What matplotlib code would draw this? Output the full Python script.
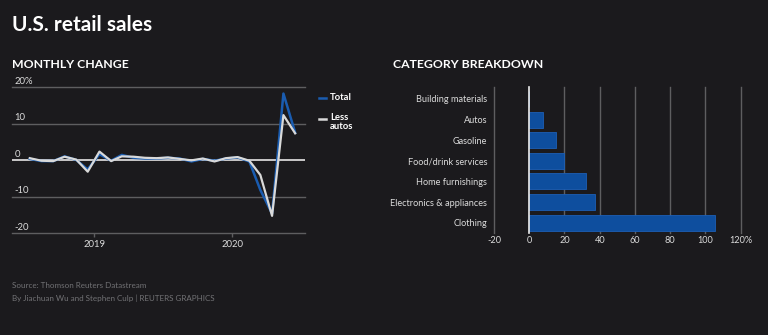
import matplotlib
matplotlib.use('Agg')
import matplotlib.pyplot as plt
import matplotlib.dates as mdates
import matplotlib.transforms as mtrans
import numpy as np
import datetime

plt.rcParams['font.family'] = ['Lato', 'DejaVu Sans']

BG = '#1b1a1d'
BLUE = '#1a5cb0'
WHITE = '#d9d9d9'
GRID = '#5e5e60'

# monthly % change, Jul 2018 .. Jun 2020
months = [datetime.date(2018 + (6 + i) // 12, (6 + i) % 12 + 1, 15) for i in range(24)]
total = [0.3, -0.3, -0.3, 1.0, 0.0, -2.6, 1.6, -0.2, 1.4, 0.6, 0.4, 0.4,
         0.6, 0.4, -0.4, 0.3, -0.2, 0.4, 0.7, -0.4, -8.2, -14.7, 18.2, 7.5]
less_autos = [0.5, -0.2, -0.3, 0.9, 0.1, -3.2, 2.3, -0.3, 1.0, 0.9, 0.6, 0.5,
              0.7, 0.3, -0.1, 0.4, -0.4, 0.5, 0.8, -0.2, -4.1, -15.3, 12.3, 7.3]

categories = ['Building materials', 'Autos', 'Gasoline', 'Food/drink services',
              'Home furnishings', 'Electronics & appliances', 'Clothing']
cat_change = [0, 8.0, 15.2, 19.6, 32.4, 37.5, 105.3]

fig = plt.figure(figsize=(7.68, 3.35), dpi=100, facecolor=BG)

fig.text(12/768, 1 - 25/335, 'U.S. retail sales', color='white', fontsize=15,
         fontweight='bold', va='center', ha='left')
fig.text(12/768, 1 - 64/335, 'MONTHLY CHANGE', color='white', fontsize=8.8,
         fontweight='bold', va='center', ha='left')
fig.text(393/768, 1 - 64/335, 'CATEGORY BREAKDOWN', color='white', fontsize=8.8,
         fontweight='bold', va='center', ha='left')
fig.text(12/768, 1 - 285/335, 'Source: Thomson Reuters Datastream', color='#727275',
         fontsize=5.8, va='center', ha='left')
fig.text(12/768, 1 - 298/335, 'By Jiachuan Wu and Stephen Culp | REUTERS GRAPHICS',
         color='#727275', fontsize=5.8, va='center', ha='left')

# ---- line chart
ax = fig.add_axes([12/768, 1 - 233/335, 293/768, 146/335], facecolor=BG)
ax.set_ylim(-20, 20)
ax.set_xlim(datetime.date(2018, 5, 29), datetime.date(2020, 7, 11))
for v in [20, 10, -10, -20]:
    ax.axhline(v, color=GRID, lw=1, zorder=1, clip_on=False)
ax.axhline(0, color='#e6e6e6', lw=1.2, zorder=1)
ax.plot(months, total, color=BLUE, lw=1.8, zorder=3)
ax.plot(months, less_autos, color=WHITE, lw=1.6, zorder=4)
for s in ax.spines.values():
    s.set_visible(False)
ax.set_yticks([])
ax.xaxis.set_major_locator(mdates.YearLocator())
ax.xaxis.set_major_formatter(mdates.DateFormatter('%Y'))
ax.tick_params(axis='x', colors=GRID, length=3, width=1, labelcolor='#dcdcdc',
               labelsize=6.8, pad=2)
tr = mtrans.blended_transform_factory(ax.transAxes, ax.transData)
for v, lab in [(20, '20%'), (10, '10'), (0, '0'), (-10, '-10'), (-20, '-20')]:
    ax.text(0.008, v + 0.9, lab, transform=tr, color='#dcdcdc', fontsize=6.8,
            ha='left', va='baseline')

# legend
fig.lines.append(plt.Line2D([319/768, 326/768], [1 - 98/335] * 2, color=BLUE, lw=1.8,
                            transform=fig.transFigure))
fig.lines.append(plt.Line2D([319/768, 326/768], [1 - 119/335] * 2, color=WHITE, lw=1.8,
                            transform=fig.transFigure))
fig.text(330/768, 1 - 98/335, 'Total', color='white', fontsize=6.8, fontweight='bold',
         va='center', ha='left')
fig.text(330/768, 1 - 113/335, 'Less\nautos', color='white', fontsize=6.8,
         fontweight='bold', va='top', ha='left', linespacing=1.05)

# ---- bar chart
ax2 = fig.add_axes([494/768, 1 - 233/335, 246.7/768, 146/335], facecolor=BG)
ypos = np.arange(len(categories))
ax2.set_xlim(-20, 120)
ax2.set_ylim(6.5, -0.58)
for v in range(-20, 121, 20):
    ax2.axvline(v, color='#eeeeee' if v == 0 else GRID, lw=1.2 if v == 0 else 1,
                zorder=4 if v == 0 else 1, clip_on=False)
ax2.barh(ypos, cat_change, height=0.78, color='#0e4e9e', edgecolor='#1d5fb5', lw=0.6, zorder=3)
for s in ax2.spines.values():
    s.set_visible(False)
ax2.set_yticks(ypos)
ax2.set_yticklabels(categories)
ax2.set_xticks(range(-20, 121, 20))
ax2.set_xticklabels(['-20', '0', '20', '40', '60', '80', '100', '120%'])
ax2.tick_params(axis='both', length=0, labelcolor='#dcdcdc', labelsize=6.6)
ax2.tick_params(axis='y', pad=5)
ax2.tick_params(axis='x', pad=2)

fig.savefig('out.png', dpi=100, facecolor=BG)
